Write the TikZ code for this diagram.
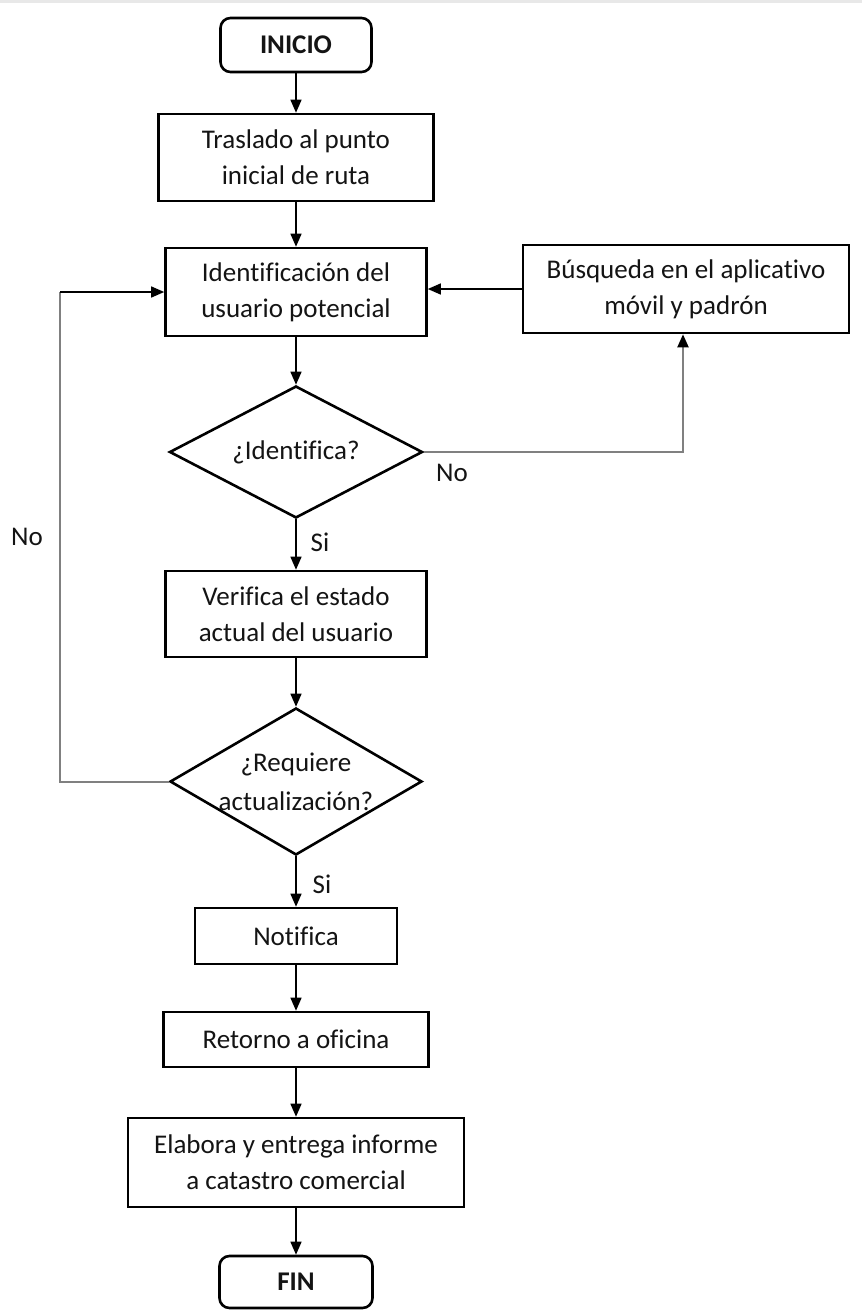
\documentclass[tikz,border=0pt]{standalone}
\usepackage{fontspec}
\setmainfont{Carlito}[Ligatures=NoCommon]
\usetikzlibrary{shapes.geometric,arrows.meta}
\definecolor{loopgray}{RGB}{128,128,128}
\definecolor{ink}{RGB}{20,20,20}
\tikzset{
  txt/.style={font=\fontsize{27}{36}\selectfont, text=ink},
  procbox/.style={txt, draw=black, line width=2.6pt, rectangle, align=center, inner sep=0pt},
  termbox/.style={procbox, rounded corners=10pt, font=\fontsize{27}{36}\selectfont\bfseries},
  decision/.style={draw=black, line width=2.6pt, diamond, inner sep=0pt},
  dlabel/.style={font=\fontsize{27}{39}\selectfont, text=ink, align=center},
  tip/.style={-{Triangle[length=13pt,width=11pt,color=black,fill=black]}},
  flow/.style={line width=1.4pt, draw=black, tip},
  back/.style={line width=2pt, draw=loopgray},
  lbl/.style={txt}
}
\begin{document}
\begin{tikzpicture}[x=1pt,y=-1pt]
  % page
  \fill[white] (0,0) rectangle (862,1312);
  \useasboundingbox (0,0) rectangle (862,1312);
  \fill[gray!18] (0,0) rectangle (862,2.5);

  % main column
  \node[termbox, minimum width=151pt, minimum height=54pt] (inicio) at (296,45) {INICIO};
  \node[procbox, minimum width=275pt, minimum height=87pt] (tras) at (296,157.5) {Traslado al punto\\inicial de ruta};
  \node[procbox, minimum width=261pt, minimum height=88pt] (ident) at (296,292) {Identificación del\\usuario potencial};
  \node[procbox, minimum width=326pt, minimum height=88pt] (busq) at (686,289) {Búsqueda en el aplicativo\\móvil y padrón};
  \node[decision, minimum width=253pt, minimum height=132pt,
        label={[dlabel]center:¿Identifica?}] (dec1) at (296,452) {};
  \node[procbox, minimum width=261pt, minimum height=86pt] (verif) at (296,614) {Verifica el estado\\actual del usuario};
  \node[decision, minimum width=252pt, minimum height=147pt,
        label={[dlabel]center:{¿Requiere\\actualización?}}] (dec2) at (296,781.5) {};
  \node[procbox, minimum width=202pt, minimum height=56pt] (notif) at (296,936) {Notifica};
  \node[procbox, minimum width=265pt, minimum height=55pt] (ret) at (296,1039.5) {Retorno a oficina};
  \node[procbox, minimum width=336pt, minimum height=89pt] (elab) at (296,1162.5) {Elabora y entrega informe\\a catastro comercial};
  \node[termbox, minimum width=153pt, minimum height=52pt] (fin) at (296,1282) {FIN};

  % straight flow
  \draw[flow] (inicio.south) -- (tras.north);
  \draw[flow] (tras.south) -- (ident.north);
  \draw[flow] (ident.south) -- (dec1.north);
  \draw[flow] (dec1.south) -- (verif.north);
  \draw[flow] (verif.south) -- (dec2.north);
  \draw[flow] (dec2.south) -- (notif.north);
  \draw[flow] (notif.south) -- (ret.north);
  \draw[flow] (ret.south) -- (elab.north);
  \draw[flow] (elab.south) -- (fin.north);
  \draw[flow] (busq.west) -- (busq.west -| ident.east);

  % "No" branch of the first decision
  \coordinate (rc) at (683,452);
  \draw[back, tip] (dec1.east) -- (rc) -- (rc |- busq.south);

  % "No" branch of the second decision
  \coordinate (lc) at (60,781.5);
  \coordinate (lt) at (60,292);
  \draw[back] (dec2.west) -- (lc) -- (lt);
  \draw[flow] (lt) -- (lt -| ident.west);

  % branch labels
  \node[lbl] (no1) at (452,473) {No};
  \node[lbl] (si1) at (320,542) {Si};
  \node[lbl] (no2) at (27,537) {No};
  \node[lbl] (si2) at (322,884) {Si};
\end{tikzpicture}
\end{document}
